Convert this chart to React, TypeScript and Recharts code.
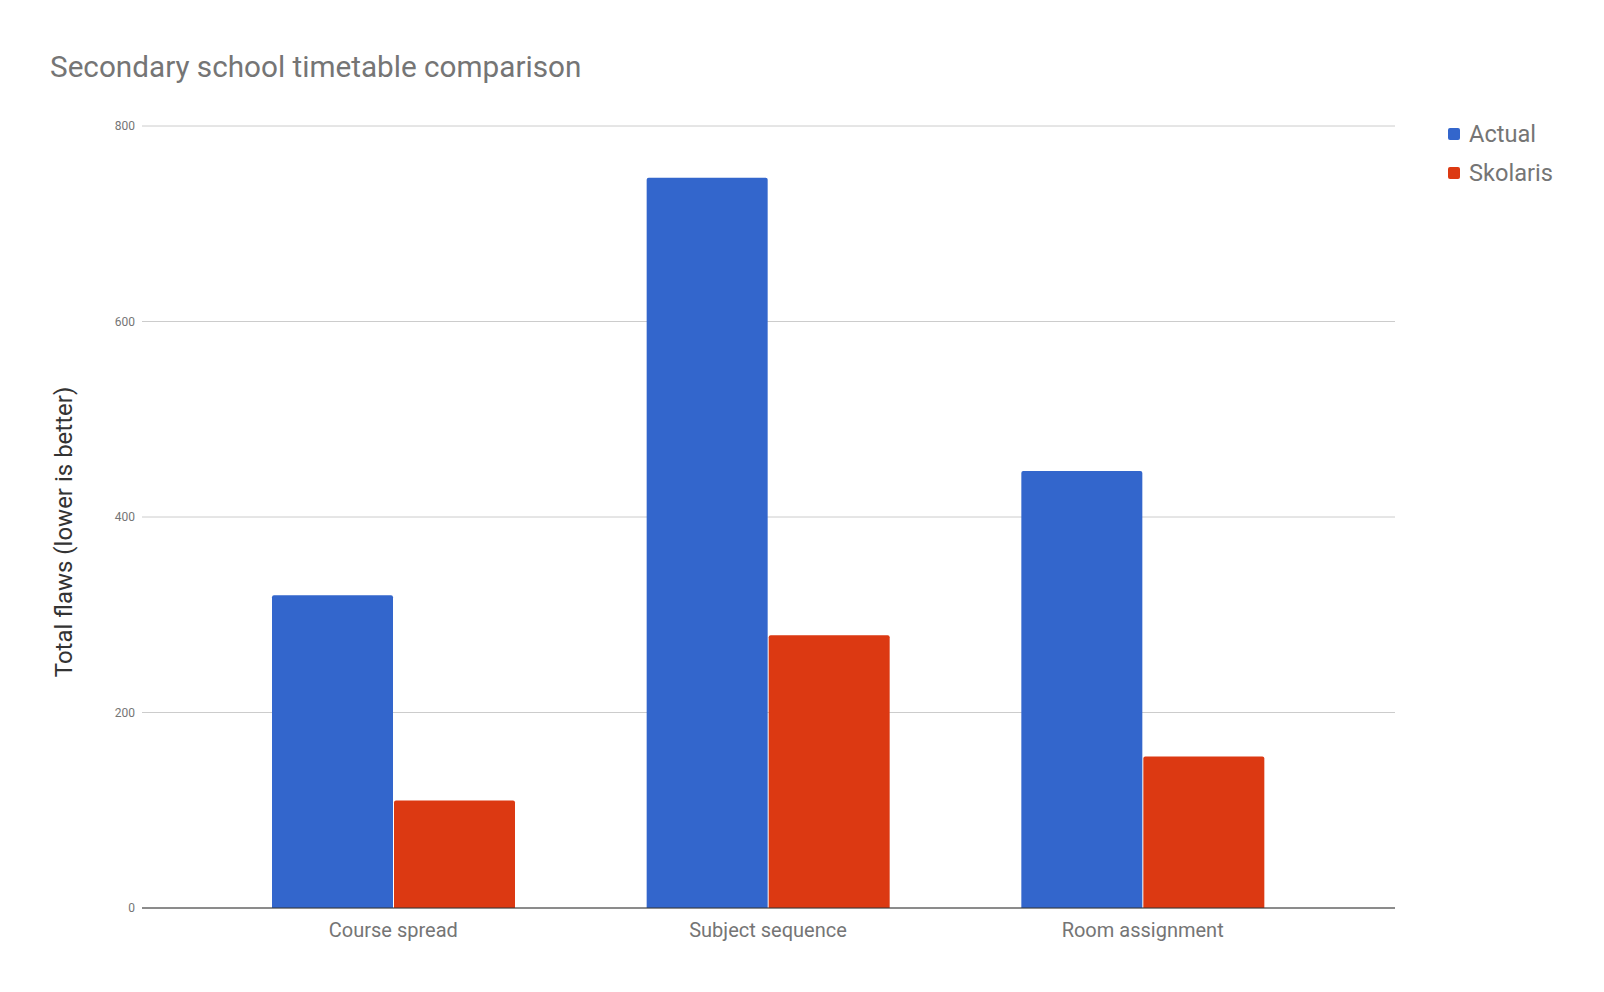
import React from 'react';
import { BarChart, Bar, XAxis, YAxis, CartesianGrid, Label } from 'recharts';

// chart data
const categories = ['Course spread', 'Subject sequence', 'Room assignment'];
const actualValues = [320, 747, 447];
const skolarisValues = [110, 279, 155];
const yTicks = [0, 200, 400, 600, 800];

const series = [
    { key: 'actual', name: 'Actual', color: '#3366cc' },
    { key: 'skolaris', name: 'Skolaris', color: '#dc3912' }
];

const data = categories.map((name, i) => ({
    name,
    actual: actualValues[i],
    skolaris: skolarisValues[i]
}));

const FONT = 'Roboto, "Noto Sans", sans-serif';

const YAxisTitle = (props: any) => {
    const vb = props.viewBox || { x: 0, y: 0, width: 0, height: 0 };
    const x = vb.x + 72;
    const y = vb.y + vb.height / 2 + 15;
    return (
        <text
            x={x}
            y={y}
            transform={`rotate(-90, ${x}, ${y})`}
            textAnchor="middle"
            fontFamily={FONT}
            fontSize={24}
            fill="#333333"
        >
            Total flaws (lower is better)
        </text>
    );
};

export default function App() {
    return (
        <div style={{ position: 'absolute', left: 0, top: 0, width: 1604, height: 992, background: '#fff' }}>
            <div
                style={{
                    position: 'absolute',
                    left: 50,
                    top: 52,
                    fontFamily: FONT,
                    fontSize: 29.7,
                    lineHeight: '30px',
                    color: '#757575',
                    whiteSpace: 'nowrap',
                    zIndex: 1
                }}
            >
                Secondary school timetable comparison
            </div>
            {/* legend */}
            <ul
                style={{
                    position: 'absolute',
                    left: 1448,
                    top: 114,
                    listStyle: 'none',
                    margin: 0,
                    padding: 0,
                    fontFamily: FONT,
                    zIndex: 1
                }}
            >
                {series.map(s => (
                    <li key={s.key} style={{ display: 'flex', alignItems: 'center', height: 39 }}>
                        <span
                            style={{
                                display: 'inline-block',
                                width: 12,
                                height: 12,
                                borderRadius: 2,
                                background: s.color,
                                marginRight: 9
                            }}
                        />
                        <span style={{ fontSize: 23.6, color: '#757575' }}>{s.name}</span>
                    </li>
                ))}
            </ul>
            <BarChart
                width={1604}
                height={992}
                data={data}
                margin={{ top: 126, right: 209, bottom: 54, left: 0 }}
                barCategoryGap={66}
                barGap={1}
            >
                <CartesianGrid vertical={false} stroke="#cccccc" />
                <XAxis
                    dataKey="name"
                    height={30}
                    padding={{ left: 64, right: 65 }}
                    axisLine={{ stroke: '#333333', strokeWidth: 1.2 }}
                    tickLine={false}
                    tickSize={0}
                    tickMargin={15}
                    tick={{ fontFamily: FONT, fontSize: 20, fill: '#757575' }}
                />
                <YAxis
                    width={142}
                    domain={[0, 800]}
                    ticks={yTicks}
                    axisLine={false}
                    tickLine={false}
                    tickSize={0}
                    tickMargin={7}
                    tick={{ fontFamily: FONT, fontSize: 12, fill: '#757575' }}
                >
                    <Label content={<YAxisTitle />} />
                </YAxis>
                {series.map(s => (
                    <Bar
                        key={s.key}
                        dataKey={s.key}
                        name={s.name}
                        fill={s.color}
                        radius={[2, 2, 0, 0]}
                        isAnimationActive={false}
                    />
                ))}
            </BarChart>
        </div>
    );
}
